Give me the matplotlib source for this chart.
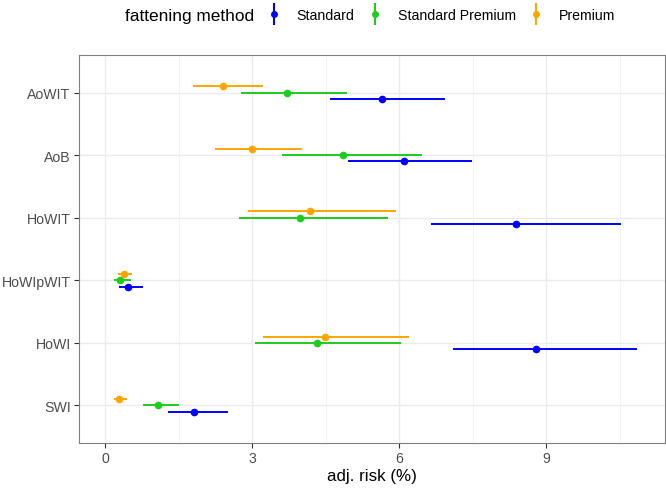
import matplotlib
matplotlib.use("Agg")
import matplotlib.pyplot as plt
import numpy as np
from matplotlib.lines import Line2D
from matplotlib.ticker import MultipleLocator

plt.rcParams['font.family'] = ['Liberation Sans', 'DejaVu Sans']

categories = ["AoWIT", "AoB", "HoWIT", "HoWIpWIT", "HoWI", "SWI"]
methods = ["Standard", "Standard Premium", "Premium"]
colors = ["#0000ff", "#1ecc1e", "#ffa500"]

# point estimate, lower, upper (adj. risk %)
std_est = [5.64, 6.10, 8.38, 0.47, 8.79, 1.80]
std_lo = [4.58, 4.96, 6.64, 0.28, 7.09, 1.28]
std_hi = [6.93, 7.49, 10.53, 0.77, 10.85, 2.51]

stp_est = [3.70, 4.84, 3.98, 0.30, 4.31, 1.08]
stp_lo = [2.77, 3.61, 2.73, 0.18, 3.06, 0.77]
stp_hi = [4.94, 6.47, 5.77, 0.53, 6.04, 1.51]

pre_est = [2.40, 3.00, 4.17, 0.37, 4.48, 0.28]
pre_lo = [1.79, 2.23, 2.90, 0.26, 3.22, 0.18]
pre_hi = [3.21, 4.02, 5.94, 0.55, 6.19, 0.44]

est = [std_est, stp_est, pre_est]
lo = [std_lo, stp_lo, pre_lo]
hi = [std_hi, stp_hi, pre_hi]
offsets = [0.1, 0.0, -0.1]

fig = plt.figure(figsize=(6.66, 4.89), dpi=100)
ax = fig.add_axes([0.1186, 0.092, 0.8799, 0.7935])

ypos = np.arange(len(categories))
for i in range(3):
    e = np.array(est[i])
    l = np.array(lo[i])
    h = np.array(hi[i])
    ax.errorbar(e, ypos + offsets[i], xerr=[e - l, h - e], fmt='o', color=colors[i],
                ms=4.5, elinewidth=1.4, capsize=0, zorder=3)

ax.set_xlim(-0.54, 11.42)
ax.set_ylim(len(categories) - 0.4, -0.6)
ax.set_yticks(ypos)
ax.set_yticklabels(categories)
ax.xaxis.set_major_locator(MultipleLocator(3))
ax.xaxis.set_minor_locator(MultipleLocator(1.5))
ax.grid(which='major', color='#ebebeb', lw=1.0, zorder=0)
ax.grid(which='minor', axis='x', color='#f2f2f2', lw=0.6, zorder=0)
ax.set_axisbelow(True)
ax.tick_params(which='major', length=3.5, width=0.8, color='#333333',
               labelsize=10.2, labelcolor='#4d4d4d', pad=2.5)
ax.tick_params(which='minor', length=0)
for s in ax.spines.values():
    s.set_color('#808080')
    s.set_linewidth(0.8)
ax.set_xlabel("adj. risk (%)", fontsize=12.2, labelpad=2)

handles = [(Line2D([], [], ls='', marker='|', ms=16, mew=1.5, color=c),
            Line2D([], [], ls='', marker='o', ms=4, color=c)) for c in colors]
fig.text(0.1877, 0.967, "fattening method", fontsize=12.4, va='center', ha='left')
fig.legend(handles, methods, ncol=3, loc='center left', bbox_to_anchor=(0.4026, 0.967),
           frameon=False, fontsize=10.2, handlelength=0.8, handletextpad=1.2,
           columnspacing=1.05, borderpad=0, borderaxespad=0)

fig.savefig("out.png", dpi=100)
